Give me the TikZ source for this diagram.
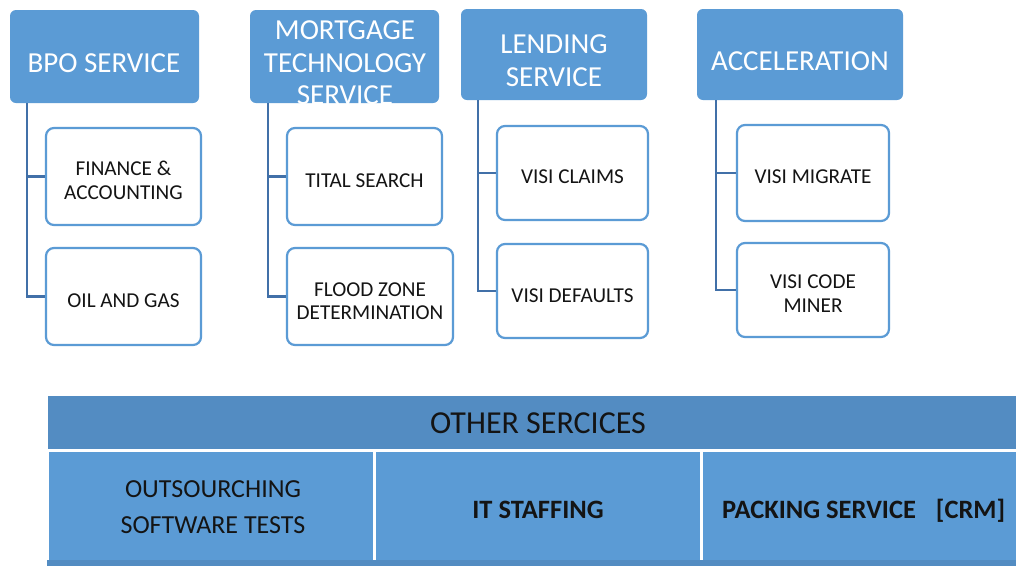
\documentclass[tikz,border=0pt]{standalone}
\usepackage{fontspec}
\setmainfont{Carlito}
\definecolor{hblue}{RGB}{91,155,213}
\definecolor{bandblue}{RGB}{83,140,194}
\definecolor{lblue}{RGB}{65,112,168}
\definecolor{ink}{RGB}{20,20,20}
\tikzset{
  head/.style={fill=hblue, draw=none, rounded corners=6pt, inner sep=0pt},
  leaf/.style={draw=hblue, line width=2.2pt, fill=white, rounded corners=8pt, inner sep=0pt},
  link/.style={draw=lblue, line width=2.8pt},
  htext/.style={text=white, font=\fontsize{29}{33}\selectfont, inner sep=0pt, anchor=base},
  ltext/.style={text=ink, font=\fontsize{21.2}{24}\selectfont, inner sep=0pt, anchor=base},
  band/.style={fill=bandblue, draw=none},
  cell/.style={fill=hblue, draw=none},
  btext/.style={text=ink, font=\fontsize{26}{30}\selectfont, inner sep=0pt, anchor=base},
  bbold/.style={text=ink, font=\fontsize{26.5}{30}\selectfont\bfseries, inner sep=0pt, anchor=base},
}
\begin{document}
\begin{tikzpicture}[x=1pt, y=-1pt]
\useasboundingbox (0,0) rectangle (1016,566);
\fill[white] (0,0) rectangle (1016,566);

% ---------- header boxes ----------
\node[head, minimum width=189pt, minimum height=93pt] (bpo) at (104.5,56.5) {};
\node[head, minimum width=189pt, minimum height=93pt] (mts) at (344.5,56.5) {};
\node[head, minimum width=186pt, minimum height=91pt] (lend) at (554,54.5) {};
\node[head, minimum width=206pt, minimum height=91pt] (acc) at (800,54.5) {};

\node[htext] (bpoT) at (104,72) {BPO SERVICE};
\begin{scope}
  \clip[rounded corners=6pt] (mts.north west) rectangle (mts.south east);
  \node[htext] (mtsT1) at (345,39) {MORTGAGE};
  \node[htext] (mtsT2) at (345,72) {TECHNOLOGY};
  \node[htext] (mtsT3) at (345,104) {SERVICE};
\end{scope}
\node[htext] (lendT1) at (554,53) {LENDING};
\node[htext] (lendT2) at (554,86) {SERVICE};
\node[htext] (accT) at (800,70) {ACCELERATION};

% ---------- sub-service boxes ----------
\node[leaf, minimum width=155pt, minimum height=97pt] (fin) at (123.5,176.5) {};
\node[leaf, minimum width=155pt, minimum height=97pt] (oil) at (123.5,296.5) {};
\node[leaf, minimum width=155pt, minimum height=97pt] (tital) at (364.5,176.5) {};
\node[leaf, minimum width=166pt, minimum height=97pt] (flood) at (370,296.5) {};
\node[leaf, minimum width=151pt, minimum height=94pt] (claims) at (572.5,173) {};
\node[leaf, minimum width=151pt, minimum height=94pt] (defaults) at (572.5,291) {};
\node[leaf, minimum width=152pt, minimum height=96pt] (migrate) at (813,173) {};
\node[leaf, minimum width=152pt, minimum height=94pt] (miner) at (813,290) {};

\node[ltext] (finT1) at (123.5,175) {FINANCE \&};
\node[ltext] (finT2) at (123.5,199) {ACCOUNTING};
\node[ltext] (oilT) at (123.5,307) {OIL AND GAS};
\node[ltext] (titalT) at (364.5,187) {TITAL SEARCH};
\node[ltext] (floodT1) at (370,296) {FLOOD ZONE};
\node[ltext] (floodT2) at (370,319) {DETERMINATION};
\node[ltext] (claimsT) at (572.5,183) {VISI CLAIMS};
\node[ltext] (defaultsT) at (572.5,302) {VISI DEFAULTS};
\node[ltext] (migrateT) at (813,183) {VISI MIGRATE};
\node[ltext] (minerT1) at (813,288) {VISI CODE};
\node[ltext] (minerT2) at (813,312) {MINER};

% ---------- tree connectors ----------
\coordinate (bpoS) at (27,103);
\coordinate (mtsS) at (268,103);
\coordinate (lendS) at (478,100);
\coordinate (accS) at (716,100);

\draw[link] (bpoS) |- (oil.west);
\draw[link] (bpoS |- fin.west) -- (fin.west);
\draw[link] (mtsS) |- (flood.west);
\draw[link] (mtsS |- tital.west) -- (tital.west);
\draw[link] (lendS) |- (defaults.west);
\draw[link] (lendS |- claims.west) -- (claims.west);
\draw[link] (accS) |- (miner.west);
\draw[link] (accS |- migrate.west) -- (migrate.west);

% ---------- other services band ----------
\node[band, minimum width=968pt, minimum height=53pt, inner sep=0pt] (other) at (532,422.5) {};
\node[text=ink, font=\fontsize{32}{36}\selectfont, inner sep=0pt, anchor=base] (otherT) at (538,433) {OTHER SERCICES};

\node[cell, minimum width=324pt, minimum height=108pt, inner sep=0pt] (c1) at (211,506) {};
\node[cell, minimum width=324pt, minimum height=108pt, inner sep=0pt] (c2) at (538,506) {};
\node[cell, minimum width=313pt, minimum height=108pt, inner sep=0pt] (c3) at (859.5,506) {};
\node[band, minimum width=969pt, minimum height=6pt, inner sep=0pt] (foot) at (531.5,563) {};

\node[btext] (c1T1) at (213,497) {OUTSOURCHING};
\node[btext] (c1T2) at (213,533) {SOFTWARE TESTS};
\node[bbold] (c2T) at (538,518) {IT STAFFING};
\node[bbold, anchor=base west] (c3T) at (722,518) {PACKING SERVICE\hspace{20pt}[CRM]};
\end{tikzpicture}
\end{document}
